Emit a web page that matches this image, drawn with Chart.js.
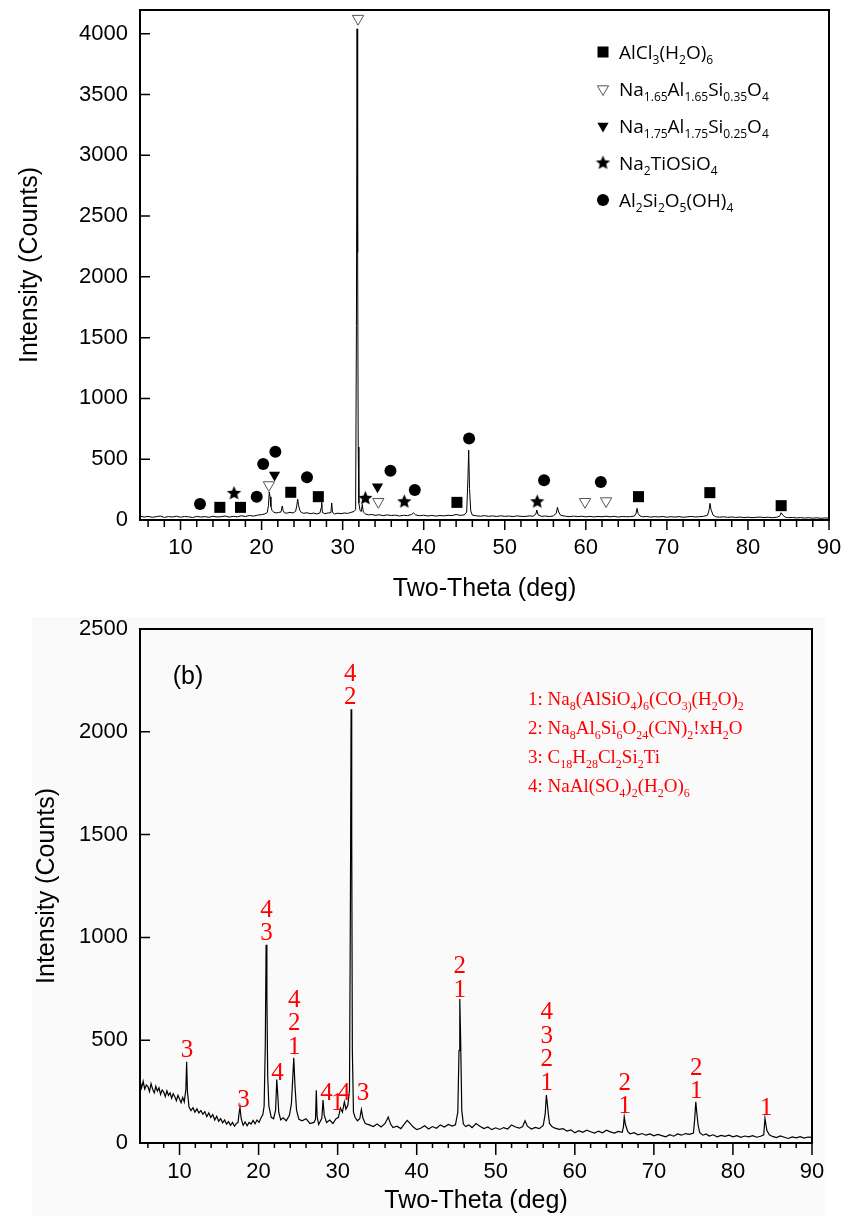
<!DOCTYPE html>
<html>
<head>
<meta charset="utf-8">
<title>XRD patterns</title>
<script src="https://cdn.jsdelivr.net/npm/chart.js@4.4.0/dist/chart.umd.min.js"></script>
<style>
  html, body { margin: 0; padding: 0; background: #fff; }
  #page { position: relative; width: 842px; height: 1216px; overflow: hidden; }
  #grain { position: absolute; left: 32px; top: 617px; width: 793px; height: 599px; background: #fafafa; }
  canvas { position: absolute; left: 0; }
  #xrdA { top: 0; }
  #xrdB { top: 605px; }
</style>
</head>
<body>
<div id="page">
  <div id="grain"></div>
  <canvas id="xrdA" width="842" height="605"></canvas>
  <canvas id="xrdB" width="842" height="611"></canvas>
</div>
<script>
// ---- pattern (a) ----
const thetaA = [
  5, 5.5, 6, 6.5, 7, 7.5, 8, 8.5, 9, 9.5,
  10, 10.5, 11, 11.5, 12, 12.5, 13, 13.5, 14, 14.5,
  15, 15.5, 16, 16.5, 17, 17.5, 18, 18.5, 19, 19.5,
  20, 20.4, 20.7, 20.85, 20.95, 21.05, 21.15, 21.3, 21.5, 21.8,
  22.1, 22.4, 22.55, 22.65, 22.8, 23.1, 23.5, 23.9, 24.2, 24.35,
  24.45, 24.55, 24.7, 24.9, 25.2, 25.6, 26, 26.4, 26.8, 27.2,
  27.35, 27.42, 27.5, 27.8, 28.2, 28.55, 28.65, 28.75, 29, 29.4,
  29.8, 30.2, 30.6, 31, 31.4, 31.6, 31.7, 31.78, 31.85, 31.92,
  32, 32.15, 32.3, 32.42, 32.55, 32.8, 33.2, 33.6, 34, 34.5,
  35, 35.5, 36, 36.5, 37, 37.5, 38, 38.5, 38.75, 39,
  39.5, 40, 40.5, 41, 41.5, 42, 42.5, 43, 43.5, 44,
  44.5, 45, 45.3, 45.45, 45.55, 45.65, 45.8, 46, 46.5, 47,
  47.5, 48, 48.5, 49, 49.5, 50, 50.5, 51, 51.5, 52,
  52.5, 53, 53.5, 53.85, 53.95, 54.1, 54.5, 55, 55.5, 56,
  56.35, 56.5, 56.65, 56.9, 57.5, 58, 58.5, 59, 59.5, 60,
  60.5, 61, 61.5, 62, 62.5, 63, 63.5, 64, 64.5, 65,
  65.5, 66, 66.2, 66.32, 66.45, 66.7, 67, 67.5, 68, 68.5,
  69, 69.5, 70, 70.5, 71, 71.5, 72, 72.5, 73, 73.5,
  74, 74.5, 75, 75.2, 75.32, 75.45, 75.7, 76, 76.5, 77,
  77.5, 78, 78.5, 79, 79.5, 80, 80.5, 81, 81.5, 82,
  82.5, 83, 83.5, 83.9, 84.1, 84.3, 84.6, 85, 85.5, 86,
  86.5, 87, 87.5, 88, 88.5, 89, 89.5, 90
];
const countsA = [
  32, 24, 30, 22, 27, 33, 21, 28, 25, 31,
  23, 29, 26, 20, 30, 24, 28, 22, 31, 25,
  27, 33, 24, 30, 26, 35, 29, 37, 32, 40,
  44, 50, 62, 120, 230, 190, 110, 78, 64, 58,
  62, 66, 115, 80, 60, 56, 63, 58, 72, 120,
  172, 125, 82, 62, 55, 60, 52, 57, 50, 58,
  100, 145, 62, 52, 58, 60, 140, 62, 50, 56,
  52, 58, 54, 62, 70, 85, 1600, 4040, 2200, 600,
  140, 78, 70, 128, 66, 50, 42, 46, 38, 43,
  36, 42, 37, 40, 33, 39, 36, 45, 58, 42,
  35, 39, 33, 38, 32, 37, 34, 39, 36, 46,
  38, 42, 65, 330, 575, 260, 75, 40, 35, 31,
  36, 30, 34, 29, 35, 30, 33, 28, 34, 30,
  29, 34, 31, 50, 82, 44, 30, 33, 28, 34,
  55, 104, 66, 38, 31, 27, 32, 28, 31, 26,
  30, 25, 29, 27, 31, 26, 30, 24, 29, 27,
  28, 32, 55, 96, 52, 33, 26, 29, 24, 28,
  25, 29, 23, 27, 24, 28, 22, 26, 29, 25,
  27, 30, 38, 80, 137, 85, 40, 27, 23, 26,
  22, 25, 21, 24, 20, 23, 19, 22, 24, 20,
  23, 19, 22, 30, 60, 40, 23, 19, 21, 17,
  20, 16, 19, 15, 18, 14, 17, 15
];

// phase markers for (a)
const alcl3Theta = [14.85, 17.4, 23.6, 27.0, 44.1, 66.5, 75.3, 84.1];
const alcl3Counts = [104, 104, 228, 192, 145, 192, 225, 118];
const na165Theta = [20.9, 31.9, 34.4, 59.9, 62.5];
const na165Counts = [288, 4124, 150, 150, 156];
const na175Theta = [21.6, 34.3];
const na175Counts = [370, 274];
const titanTheta = [16.6, 32.8, 37.6, 54.0];
const titanCounts = [219, 178, 150, 150];
const kaolTheta = [12.4, 19.4, 20.2, 21.7, 25.6, 35.9, 38.9, 45.6, 54.85, 61.85];
const kaolCounts = [131, 192, 460, 562, 351, 405, 247, 671, 326, 312];

const phaseNamesA = [
  'AlCl_{3}(H_{2}O)_{6}',
  'Na_{1.65}Al_{1.65}Si_{0.35}O_{4}',
  'Na_{1.75}Al_{1.75}Si_{0.25}O_{4}',
  'Na_{2}TiOSiO_{4}',
  'Al_{2}Si_{2}O_{5}(OH)_{4}'
];
const phaseKindsA = ['square', 'openDown', 'down', 'star', 'circle'];

// ---- pattern (b) ----
const thetaB = [
  5, 5.2, 5.4, 5.6, 5.8, 6, 6.2, 6.4, 6.6, 6.8,
  7, 7.2, 7.4, 7.6, 7.8, 8, 8.2, 8.4, 8.6, 8.8,
  9, 9.2, 9.4, 9.6, 9.8, 10, 10.2, 10.4, 10.6, 10.8,
  10.9, 11.0, 11.2, 11.45, 11.7, 11.95, 12.2, 12.45, 12.7, 12.95,
  13.2, 13.45, 13.7, 13.95, 14.2, 14.45, 14.7, 14.95, 15.2, 15.45,
  15.7, 15.95, 16.2, 16.45, 16.7, 16.95, 17.2, 17.4, 17.55, 17.65,
  17.8, 18.05, 18.3, 18.55, 18.8, 19.05, 19.3, 19.55, 19.8, 20.05,
  20.3, 20.55, 20.7, 20.85, 20.95, 21.05, 21.15, 21.3, 21.6, 21.9,
  22.15, 22.3, 22.4, 22.55, 22.8, 23.1, 23.5, 23.9, 24.15, 24.3,
  24.45, 24.6, 24.8, 25.1, 25.5, 26, 26.5, 27, 27.2, 27.3,
  27.4, 27.6, 28, 28.15, 28.3, 28.6, 29, 29.4, 29.8, 30.1,
  30.35, 30.6, 30.85, 31.05, 31.3, 31.5, 31.62, 31.7, 31.78, 31.86,
  32, 32.2, 32.5, 32.8, 33.0, 33.2, 33.5, 34, 34.5, 35,
  35.5, 36, 36.4, 36.7, 37, 37.5, 38, 38.5, 38.8, 39.1,
  39.5, 40, 40.5, 41, 41.5, 42, 42.5, 43, 43.5, 44,
  44.5, 44.9, 45.2, 45.35, 45.45, 45.55, 45.7, 45.9, 46.2, 46.6,
  47, 47.5, 48, 48.5, 49, 49.5, 50, 50.5, 51, 51.5,
  52, 52.5, 53, 53.4, 53.7, 54, 54.5, 55, 55.5, 56,
  56.25, 56.4, 56.5, 56.65, 56.8, 57.1, 57.5, 58, 58.5, 59,
  59.5, 60, 60.5, 61, 61.5, 62, 62.5, 63, 63.5, 64,
  64.5, 65, 65.5, 66, 66.15, 66.25, 66.4, 66.7, 67, 67.5,
  68, 68.5, 69, 69.5, 70, 70.5, 71, 71.5, 72, 72.5,
  73, 73.5, 74, 74.5, 75, 75.15, 75.3, 75.45, 75.6, 75.8,
  76.2, 76.6, 77, 77.5, 78, 78.5, 79, 79.5, 80, 80.5,
  81, 81.5, 82, 82.5, 83, 83.5, 83.9, 84.05, 84.15, 84.3,
  84.6, 85, 85.5, 86, 86.5, 87, 87.5, 88, 88.5, 89,
  89.5, 90
];
const countsB = [
  305, 268, 300, 262, 282, 275, 250, 288, 262, 244,
  276, 252, 268, 236, 258, 248, 226, 254, 232, 244,
  218, 240, 225, 206, 232, 214, 196, 222, 200, 260,
  395, 250, 175, 158, 172, 150, 166, 146, 158, 140,
  152, 128, 146, 124, 138, 112, 130, 106, 118, 98,
  112, 92, 104, 86, 100, 82, 95, 100, 150, 172,
  118, 86, 102, 84, 100, 92, 110, 94, 112, 100,
  122, 140, 180, 480, 964, 720, 330, 180, 125, 118,
  160, 309, 250, 150, 112, 122, 108, 135, 190, 300,
  415, 280, 160, 115, 108, 118, 95, 100, 115, 257,
  130, 90, 120, 209, 135, 100, 112, 95, 118, 125,
  170, 150, 200, 165, 185, 260, 1200, 2110, 1500, 450,
  150, 125, 108, 118, 163, 120, 95, 88, 80, 92,
  78, 95, 126, 92, 75, 82, 70, 95, 110, 98,
  80, 65, 72, 84, 68, 80, 72, 88, 78, 90,
  82, 88, 150, 450, 700, 520, 160, 92, 80, 88,
  75, 95, 82, 70, 78, 65, 74, 66, 75, 68,
  88, 78, 72, 80, 108, 82, 68, 76, 70, 85,
  140, 233, 200, 140, 95, 80, 72, 66, 70, 58,
  64, 50, 60, 52, 62, 55, 48, 58, 50, 62,
  54, 48, 56, 52, 80, 128, 90, 55, 45, 50,
  40, 46, 38, 44, 35, 42, 36, 30, 40, 33,
  44, 38, 46, 42, 48, 110, 200, 140, 85, 50,
  38, 44, 34, 40, 30, 37, 32, 38, 30, 36,
  28, 34, 30, 36, 28, 33, 40, 120, 95, 60,
  40, 32, 26, 34, 28, 22, 30, 25, 31, 24,
  29, 27
];

// phase numbers above the peaks of (b), listed top to bottom
const peakThetaB = [10.95, 18.1, 21.0, 22.4, 24.5, 28.6, 29.95, 30.8, 33.2, 31.6, 45.45, 56.45, 66.3, 75.35, 84.2];
const peakCountsB = [448, 209, 1018, 338, 467, 241, 193, 241, 241, 2166, 743, 290, 176, 249, 168];
const peakTagsB = ['3', '3', '43', '4', '421', '4', '1', '4', '3', '42', '21', '4321', '21', '21', '1'];

const phaseNamesB = [
  '1: Na_{8}(AlSiO_{4})_{6}(CO_{3)}(H_{2}O)_{2}',
  '2: Na_{8}Al_{6}Si_{6}O_{24}(CN)_{2}!xH_{2}O',
  '3: C_{18}H_{28}Cl_{2}Si_{2}Ti',
  '4: NaAl(SO_{4})_{2}(H_{2}O)_{6}'
];

const xTicks = [10, 20, 30, 40, 50, 60, 70, 80, 90];
const yTicksA = [0, 500, 1000, 1500, 2000, 2500, 3000, 3500, 4000];
const yTicksB = [0, 500, 1000, 1500, 2000, 2500];

Chart.defaults.font.family = '"Liberation Sans", Arial, sans-serif';
Chart.defaults.color = '#000';

const pts = (xs, ys) => xs.map((x, i) => ({ x: x, y: ys[i] }));

// filled five-point star used as a point style
function makeStar(r) {
  const c = document.createElement('canvas');
  const s = Math.ceil(r * 2) + 2;
  c.width = s; c.height = s;
  const g = c.getContext('2d');
  g.beginPath();
  for (let i = 0; i < 10; i++) {
    const rr = i % 2 ? r * 0.45 : r;
    const a = -Math.PI / 2 + i * Math.PI / 5;
    g.lineTo(s / 2 + rr * Math.cos(a), s / 2 + rr * Math.sin(a));
  }
  g.closePath();
  g.fillStyle = '#000';
  g.fill();
  return c;
}
const starImg = makeStar(7.5);

function drawMarker(ctx, kind, x, y) {
  ctx.save();
  ctx.fillStyle = '#000';
  ctx.beginPath();
  if (kind === 'square') {
    ctx.fillRect(x - 5.5, y - 5.5, 11, 11);
  } else if (kind === 'circle') {
    ctx.arc(x, y, 6, 0, Math.PI * 2);
    ctx.fill();
  } else if (kind === 'down' || kind === 'openDown') {
    ctx.moveTo(x - 5.6, y - 3.2);
    ctx.lineTo(x + 5.6, y - 3.2);
    ctx.lineTo(x, y + 6.5);
    ctx.closePath();
    if (kind === 'down') {
      ctx.fill();
    } else {
      ctx.fillStyle = '#fff';
      ctx.fill();
      ctx.strokeStyle = '#555';
      ctx.lineWidth = 1;
      ctx.stroke();
    }
  } else if (kind === 'star') {
    ctx.drawImage(starImg, x - starImg.width / 2, y - starImg.height / 2);
  }
  ctx.restore();
}

// text with _{...} parts set as subscripts
function drawFormula(ctx, text, x, y, family, size, subSize, drop) {
  const parts = text.split(/_\{([^}]*)\}/);
  let cx = x;
  parts.forEach((p, i) => {
    if (!p) return;
    const sub = i % 2 === 1;
    ctx.font = (sub ? subSize : size) + 'px ' + family;
    ctx.fillText(p, cx, sub ? y + drop : y);
    cx += ctx.measureText(p).width;
  });
}

// box around the plot, outward x ticks (minor every 2), inward y ticks
const frame = {
  id: 'frame',
  afterDatasetsDraw(chart, args, opts) {
    const { ctx, chartArea: a, scales: { x, y } } = chart;
    ctx.save();
    ctx.strokeStyle = '#000';
    ctx.lineWidth = 2;
    ctx.strokeRect(a.left, a.top, a.right - a.left, a.bottom - a.top);
    ctx.lineWidth = 1.5;
    ctx.beginPath();
    for (let v = 6; v <= x.max; v += 2) {
      const px = x.getPixelForValue(v);
      const len = v % 10 === 0 ? opts.majorLen : opts.minorLen;
      ctx.moveTo(px, a.bottom);
      ctx.lineTo(px, a.bottom + len);
    }
    y.ticks.forEach(t => {
      const py = y.getPixelForValue(t.value);
      ctx.moveTo(a.left, py);
      ctx.lineTo(a.left + 10, py);
    });
    ctx.stroke();
    ctx.restore();
  }
};

function axes(yMax, yTicks, xTickPad, xBox, yTitlePad) {
  return {
    x: {
      type: 'linear', min: 5, max: 90,
      grid: { display: false, drawTicks: false },
      border: { display: false },
      afterBuildTicks: s => { s.ticks = xTicks.map(v => ({ value: v })); },
      afterFit: s => { s.height = xBox.height; s.paddingLeft = 0; s.paddingRight = 0; },
      ticks: { font: { size: 22 }, padding: xTickPad, maxRotation: 0, autoSkip: false, callback: v => String(v) },
      title: { display: true, text: 'Two-Theta (deg)', font: { size: 25, lineHeight: 1 }, padding: { top: 0, bottom: xBox.pad } }
    },
    y: {
      min: 0, max: yMax,
      grid: { display: false, drawTicks: false },
      border: { display: false },
      afterBuildTicks: s => { s.ticks = yTicks.map(v => ({ value: v })); },
      afterFit: s => { s.width = 140; s.paddingTop = 0; s.paddingBottom = 0; },
      ticks: { font: { size: 22 }, padding: 12, autoSkip: false, callback: v => String(v) },
      title: { display: true, text: 'Intensity (Counts)', font: { size: 25, lineHeight: 1 }, padding: { top: yTitlePad, bottom: 0 } }
    }
  };
}

function phaseSet(theta, counts, style, extra) {
  return Object.assign({
    type: 'scatter',
    data: pts(theta, counts),
    pointStyle: style,
    pointRadius: 6,
    pointBackgroundColor: '#000',
    pointBorderColor: '#000',
    pointBorderWidth: 0,
    clip: false
  }, extra || {});
}

const keyA = {
  id: 'keyA',
  afterDraw(chart) {
    const ctx = chart.ctx;
    ctx.save();
    ctx.textBaseline = 'alphabetic';
    phaseNamesA.forEach((name, i) => {
      const cy = 52 + i * 37;
      drawMarker(ctx, phaseKindsA[i], 603, cy);
      ctx.fillStyle = '#000';
      drawFormula(ctx, name, 619, cy + 7, '"Open Sans", sans-serif', 19, 12, 5);
    });
    ctx.restore();
  }
};

new Chart(document.getElementById('xrdA'), {
  type: 'scatter',
  data: {
    datasets: [
      phaseSet(alcl3Theta, alcl3Counts, 'rect', { pointRadius: 7.8 }),
      phaseSet(na165Theta, na165Counts, 'triangle', { pointRadius: 6.5, pointRotation: 180, pointBackgroundColor: '#fff', pointBorderColor: '#555', pointBorderWidth: 1 }),
      phaseSet(na175Theta, na175Counts, 'triangle', { pointRadius: 6.5, pointRotation: 180 }),
      phaseSet(titanTheta, titanCounts, starImg),
      phaseSet(kaolTheta, kaolCounts, 'circle'),
      {
        type: 'scatter', showLine: true, data: pts(thetaA, countsA),
        borderColor: '#000', borderWidth: 1, pointRadius: 0, tension: 0
      }
    ]
  },
  options: {
    responsive: false, animation: false, devicePixelRatio: 1, events: [],
    layout: { padding: { top: 10, right: 13, left: 0, bottom: 0 } },
    plugins: { legend: { display: false }, tooltip: { enabled: false }, frame: { majorLen: 10, minorLen: 7 } },
    scales: axes(4195, yTicksA, 15, { height: 85, pad: 3 }, 17.5)
  },
  plugins: [frame, keyA]
});

const tagsB = {
  id: 'tagsB',
  afterDraw(chart) {
    const { ctx, scales: { x, y } } = chart;
    ctx.save();
    ctx.fillStyle = '#ff0000';
    ctx.font = '25px "Liberation Serif", serif';
    ctx.textAlign = 'center';
    ctx.textBaseline = 'middle';
    peakThetaB.forEach((t, i) => {
      const px = x.getPixelForValue(t);
      const py = y.getPixelForValue(peakCountsB[i]);
      const tag = peakTagsB[i];
      for (let k = 0; k < tag.length; k++) {
        ctx.fillText(tag[tag.length - 1 - k], px, py - k * 23.5);
      }
    });
    ctx.textAlign = 'left';
    ctx.textBaseline = 'alphabetic';
    phaseNamesB.forEach((name, i) => {
      drawFormula(ctx, name, 528, 100 + i * 29, '"Liberation Serif", serif', 19, 12, 5);
    });
    ctx.fillStyle = '#000';
    ctx.font = '25px "Liberation Sans", Arial, sans-serif';
    ctx.textAlign = 'center';
    ctx.textBaseline = 'middle';
    ctx.fillText('(b)', 188, 72);
    ctx.restore();
  }
};

new Chart(document.getElementById('xrdB'), {
  type: 'scatter',
  data: {
    datasets: [{
      showLine: true, data: pts(thetaB, countsB),
      borderColor: '#000', borderWidth: 1.2, pointRadius: 0, tension: 0
    }]
  },
  options: {
    responsive: false, animation: false, devicePixelRatio: 1, events: [],
    layout: { padding: { top: 24, right: 30, left: 0, bottom: 0 } },
    plugins: { legend: { display: false }, tooltip: { enabled: false }, frame: { majorLen: 12, minorLen: 5 } },
    scales: axes(2500, yTicksB, 16, { height: 73, pad: 2.5 }, 34.5)
  },
  plugins: [frame, tagsB]
});
</script>
</body>
</html>
